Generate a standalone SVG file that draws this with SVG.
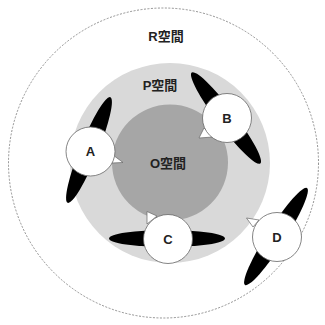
<svg xmlns="http://www.w3.org/2000/svg" width="325" height="325" viewBox="0 0 325 325">
<style>
.lbl{font-family:"Liberation Sans","Noto Sans CJK JP",sans-serif;font-size:13px;font-weight:bold;fill:#222;text-anchor:middle;dominant-baseline:central}
.node{fill:#fff;stroke:#666;stroke-width:0.8}
.ptr{fill:#fff;stroke:#666;stroke-width:0.7;stroke-linejoin:round}
.blade{fill:#000}
</style>
<rect width="325" height="325" fill="#fff"/>
<g id="R-space">
<circle cx="163.5" cy="163" r="155" fill="none" stroke="#777" stroke-width="0.8" stroke-dasharray="2,1.5"/>
<text class="lbl" x="166" y="36">R空間</text>
</g>
<g id="P-space">
<circle cx="170" cy="163" r="100" fill="#d9d9d9"/>
<text class="lbl" x="160" y="85">P空間</text>
</g>
<g id="O-space">
<circle cx="170" cy="162.5" r="58" fill="#a6a6a6"/>
<text class="lbl" x="168" y="163">O空間</text>
</g>
<g id="connectors"></g>
<g id="A">
<ellipse class="blade" cx="89" cy="150" rx="57" ry="9" transform="rotate(-68 89 150)"/>
<polygon class="ptr" points="113,155 123,162.5 112,163"/>
<circle class="node" cx="90.5" cy="151.5" r="24.5"/>
<text class="lbl" x="90.5" y="151.5">A</text>
</g>
<g id="B">
<ellipse class="blade" cx="226" cy="118" rx="57" ry="9" transform="rotate(53 226 118)"/>
<polygon class="ptr" points="204,128 213,137 199,138"/>
<circle class="node" cx="227" cy="118" r="24.5"/>
<text class="lbl" x="227" y="118">B</text>
</g>
<g id="C">
<ellipse class="blade" cx="167" cy="238.5" rx="58" ry="8.5"/>
<polygon class="ptr" points="147,211.5 157,216 147,224"/>
<circle class="node" cx="168" cy="239" r="24.5"/>
<text class="lbl" x="168" y="239">C</text>
</g>
<g id="D">
<ellipse class="blade" cx="276" cy="236.5" rx="57.5" ry="9" transform="rotate(-57.4 276 236.5)"/>
<polygon class="ptr" points="246.5,218 259,220 253,227"/>
<circle class="node" cx="277" cy="237" r="24.5"/>
<text class="lbl" x="277" y="237">D</text>
</g>
</svg>
